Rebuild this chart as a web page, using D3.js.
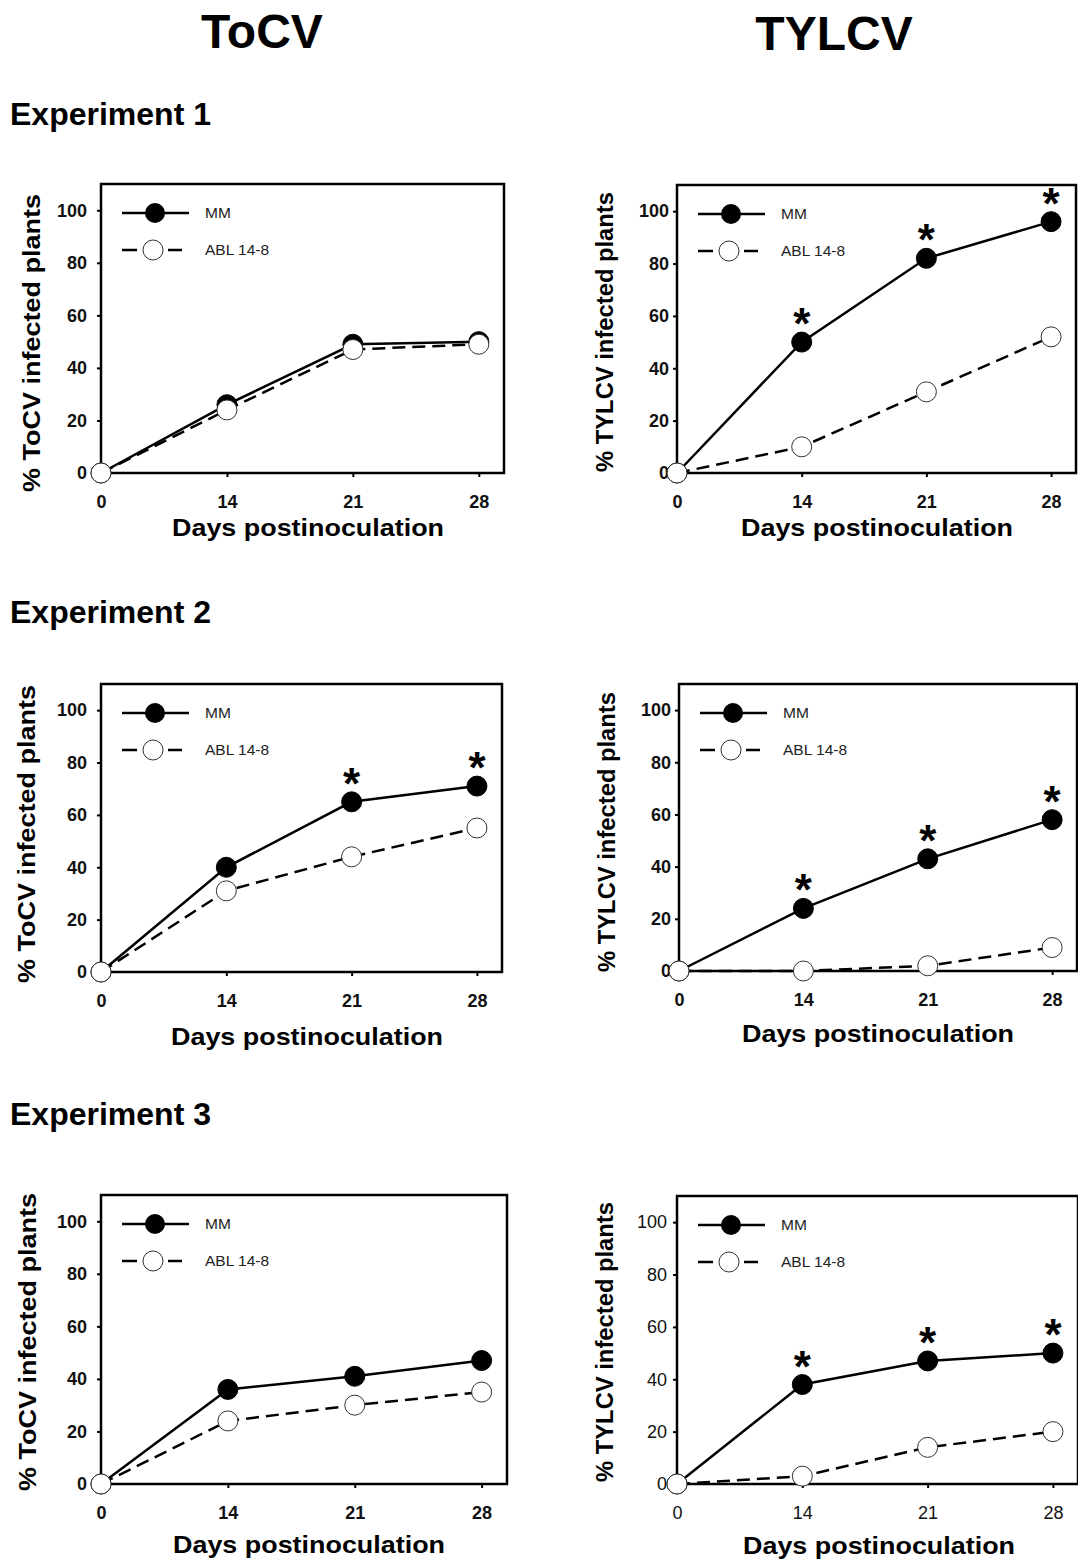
<!DOCTYPE html>
<html>
<head>
<meta charset="utf-8">
<script src="https://cdn.jsdelivr.net/npm/d3@7"></script>
<style>
  body { margin: 0; background: #fff; }
  svg { display: block; font-family: "Liberation Sans", Arial, sans-serif; }
</style>
</head>
<body>
<svg id="chart" width="1078" height="1564"></svg>
<script>
// days postinoculation (categorical, equally spaced)
const days = ['0', '14', '21', '28'];
const yTicks = [0, 20, 40, 60, 80, 100];
const seriesNames = ['MM', 'ABL 14-8'];

// % infected plants
const exp1ToCV_MM = [0, 26, 49, 50];
const exp1ToCV_ABL = [0, 24, 47, 49];
const exp1TYLCV_MM = [0, 50, 82, 96];
const exp1TYLCV_ABL = [0, 10, 31, 52];
const exp2ToCV_MM = [0, 40, 65, 71];
const exp2ToCV_ABL = [0, 31, 44, 55];
const exp2TYLCV_MM = [0, 24, 43, 58];
const exp2TYLCV_ABL = [0, 0, 2, 9];
const exp3ToCV_MM = [0, 36, 41, 47];
const exp3ToCV_ABL = [0, 24, 30, 35];
const exp3TYLCV_MM = [0, 38, 47, 50];
const exp3TYLCV_ABL = [0, 3, 14, 20];

// significant differences (asterisk above MM point)
const exp1ToCV_sig = [false, false, false, false];
const exp1TYLCV_sig = [false, true, true, true];
const exp2ToCV_sig = [false, false, true, true];
const exp2TYLCV_sig = [false, true, true, true];
const exp3ToCV_sig = [false, false, false, false];
const exp3TYLCV_sig = [false, true, true, true];

const virusTitles = ['ToCV', 'TYLCV'];
const experimentTitles = ['Experiment 1', 'Experiment 2', 'Experiment 3'];

const panels = [
  { virus: 'ToCV', mm: exp1ToCV_MM, abl: exp1ToCV_ABL, sig: exp1ToCV_sig,
    left: 101, top: 184, right: 504, bottom: 473, ytx: 40, yty: 343, ytl: 298, xtx: 308, xty: 536, gap: 10, bold: true },
  { virus: 'TYLCV', mm: exp1TYLCV_MM, abl: exp1TYLCV_ABL, sig: exp1TYLCV_sig,
    left: 677, top: 185, right: 1076, bottom: 473, ytx: 613, yty: 332, ytl: 280, xtx: 877, xty: 536, gap: 4, bold: true },
  { virus: 'ToCV', mm: exp2ToCV_MM, abl: exp2ToCV_ABL, sig: exp2ToCV_sig,
    left: 101, top: 684, right: 502, bottom: 972, ytx: 35, yty: 834, ytl: 298, xtx: 307, xty: 1045, gap: 10, bold: true },
  { virus: 'TYLCV', mm: exp2TYLCV_MM, abl: exp2TYLCV_ABL, sig: exp2TYLCV_sig,
    left: 679, top: 684, right: 1077, bottom: 971, ytx: 615, yty: 832, ytl: 280, xtx: 878, xty: 1042, gap: 4, bold: true },
  { virus: 'ToCV', mm: exp3ToCV_MM, abl: exp3ToCV_ABL, sig: exp3ToCV_sig,
    left: 101, top: 1195, right: 507, bottom: 1484, ytx: 36, yty: 1342, ytl: 298, xtx: 309, xty: 1553, gap: 10, bold: true },
  { virus: 'TYLCV', mm: exp3TYLCV_MM, abl: exp3TYLCV_ABL, sig: exp3TYLCV_sig,
    left: 677, top: 1196, right: 1078, bottom: 1484, ytx: 613, yty: 1342, ytl: 280, xtx: 879, xty: 1554, gap: 6, bold: false }
];

const svg = d3.select('#chart');

// column headings
svg.selectAll('text.virus')
  .data(virusTitles)
  .join('text')
  .attr('class', 'virus')
  .attr('x', (d, i) => (i === 0 ? 262 : 834))
  .attr('y', (d, i) => (i === 0 ? 48 : 50))
  .attr('text-anchor', 'middle')
  .attr('font-size', 48)
  .attr('font-weight', 'bold')
  .text(d => d);

svg.selectAll('text.exp')
  .data(experimentTitles)
  .join('text')
  .attr('class', 'exp')
  .attr('x', 10)
  .attr('y', (d, i) => [125, 623, 1125][i])
  .attr('font-size', 32)
  .attr('font-weight', 'bold')
  .text(d => d);

panels.forEach(p => {
  const x = d3.scaleLinear().domain([0, 3.2]).range([p.left, p.right]);
  const y = d3.scaleLinear().domain([0, 110]).range([p.bottom, p.top]);
  const g = svg.append('g');

  // axes (ticks + labels only; frame drawn separately)
  const xAxis = g.append('g')
    .attr('transform', `translate(0,${p.bottom})`)
    .call(d3.axisBottom(x).tickValues([0, 1, 2, 3]).tickFormat(i => days[i])
      .tickSize(4).tickSizeOuter(0).tickPadding(18));
  const yAxis = g.append('g')
    .attr('transform', `translate(${p.left},0)`)
    .call(d3.axisLeft(y).tickValues(yTicks).tickSize(4).tickSizeOuter(0).tickPadding(p.gap));
  [xAxis, yAxis].forEach(a => {
    a.select('.domain').remove();
    a.selectAll('line').attr('stroke', '#000').attr('stroke-width', 2);
    a.selectAll('text')
      .attr('fill', '#111')
      .attr('font-size', 18)
      .attr('font-weight', p.bold ? 'bold' : 'normal')
      .attr('font-family', '"Liberation Sans", Arial, sans-serif');
  });

  g.append('rect')
    .attr('x', p.left).attr('y', p.top)
    .attr('width', p.right - p.left).attr('height', p.bottom - p.top)
    .attr('fill', 'none').attr('stroke', '#000').attr('stroke-width', 2.5);

  // axis titles
  g.append('text')
    .attr('transform', `translate(${p.ytx},${p.yty}) rotate(-90)`)
    .attr('text-anchor', 'middle')
    .attr('font-size', 24)
    .attr('font-weight', 'bold')
    .attr('textLength', p.ytl)
    .attr('lengthAdjust', 'spacingAndGlyphs')
    .text(`% ${p.virus} infected plants`);

  g.append('text')
    .attr('x', p.xtx).attr('y', p.xty)
    .attr('text-anchor', 'middle')
    .attr('font-size', 24)
    .attr('font-weight', 'bold')
    .attr('textLength', 272)
    .attr('lengthAdjust', 'spacingAndGlyphs')
    .text('Days postinoculation');

  const line = d3.line().x((d, i) => x(i)).y(d => y(d));

  g.append('path').datum(p.mm)
    .attr('d', line).attr('fill', 'none')
    .attr('stroke', '#000').attr('stroke-width', 2.5);
  g.append('path').datum(p.abl)
    .attr('d', line).attr('fill', 'none')
    .attr('stroke', '#000').attr('stroke-width', 2.5)
    .attr('stroke-dasharray', '13,7');

  g.selectAll('circle.mm').data(p.mm).join('circle')
    .attr('class', 'mm')
    .attr('cx', (d, i) => x(i)).attr('cy', d => y(d)).attr('r', 10)
    .attr('fill', '#000').attr('stroke', '#000');
  g.selectAll('circle.abl').data(p.abl).join('circle')
    .attr('class', 'abl')
    .attr('cx', (d, i) => x(i)).attr('cy', d => y(d)).attr('r', 10)
    .attr('fill', '#fff').attr('stroke', '#333').attr('stroke-width', 1);

  // asterisks
  g.selectAll('text.sig').data(p.mm.map((v, i) => ({ v, i })).filter(d => p.sig[d.i]))
    .join('text')
    .attr('class', 'sig')
    .attr('x', d => x(d.i)).attr('y', d => y(d.v) - 3)
    .attr('text-anchor', 'middle')
    .attr('font-size', 44)
    .attr('font-weight', 'bold')
    .text('*');

  // legend
  const lg = g.append('g').attr('transform', `translate(${p.left},${p.top})`);
  const rows = [29, 66];
  lg.append('line').attr('x1', 21).attr('x2', 88).attr('y1', rows[0]).attr('y2', rows[0])
    .attr('stroke', '#000').attr('stroke-width', 2.5);
  lg.append('line').attr('x1', 21).attr('x2', 36).attr('y1', rows[1]).attr('y2', rows[1])
    .attr('stroke', '#000').attr('stroke-width', 2.5);
  lg.append('line').attr('x1', 67).attr('x2', 81).attr('y1', rows[1]).attr('y2', rows[1])
    .attr('stroke', '#000').attr('stroke-width', 2.5);
  lg.append('circle').attr('cx', 54).attr('cy', rows[0]).attr('r', 10).attr('fill', '#000');
  lg.append('circle').attr('cx', 52).attr('cy', rows[1]).attr('r', 10)
    .attr('fill', '#fff').attr('stroke', '#333').attr('stroke-width', 1);
  lg.selectAll('text').data(seriesNames).join('text')
    .attr('x', 104).attr('y', (d, i) => rows[i]).attr('dy', '0.35em')
    .attr('font-size', 15.5)
    .attr('fill', '#222')
    .text(d => d);
});
</script>
</body>
</html>
